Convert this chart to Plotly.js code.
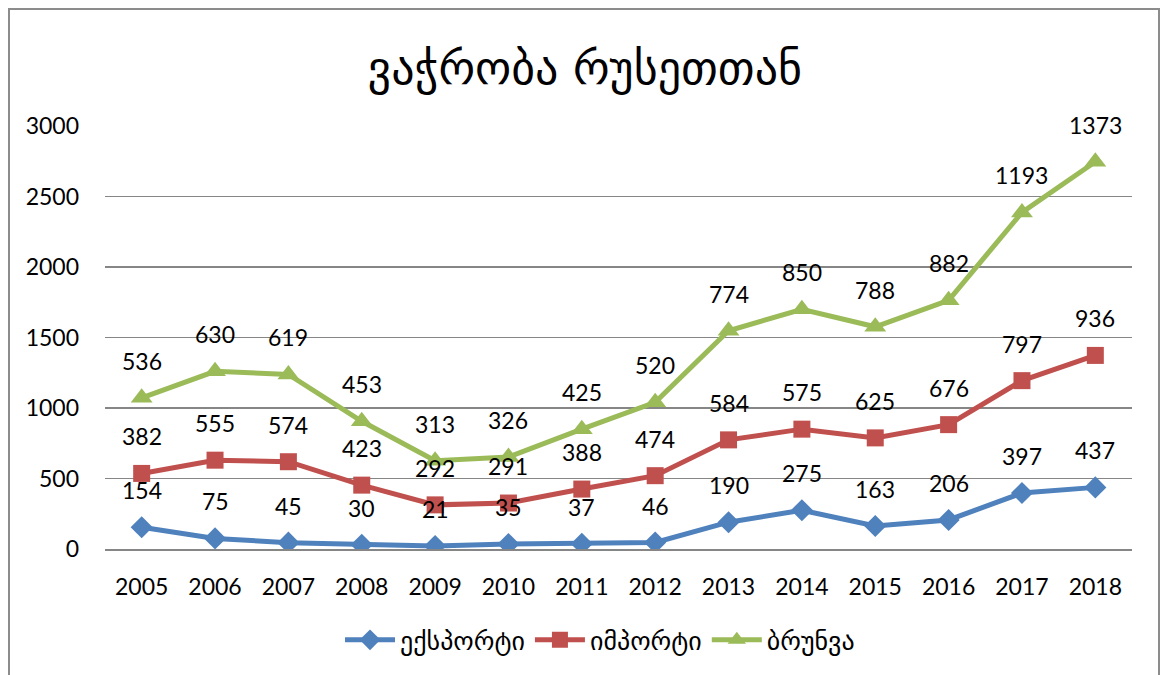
<!DOCTYPE html>
<html><head><meta charset="utf-8">
<script src="https://cdn.plot.ly/plotly-3.0.1.min.js"></script>
<style>
html,body{margin:0;padding:0;background:#fff;overflow:hidden;}
#frame{position:absolute;left:8px;top:8px;width:1152px;height:680px;border:2px solid #8c8c8c;box-sizing:border-box;}
#chart{position:absolute;left:0;top:0;width:1165px;height:675px;}
</style></head>
<body>
<div id="frame"></div>
<div id="chart"></div>
<script>
const years = ['2005','2006','2007','2008','2009','2010','2011','2012','2013','2014','2015','2016','2017','2018'];
const exportVals = [154,75,45,30,21,35,37,46,190,275,163,206,397,437];
const importVals = [382,555,574,423,292,291,388,474,584,575,625,676,797,936];
const turnoverVals = [536,630,619,453,313,326,425,520,774,850,788,882,1193,1373];
const seriesNames = ['ექსპორტი','იმპორტი','ბრუნვა'];
const titleText = 'ვაჭრობა რუსეთთან';

const FONT = 'Lato, "DejaVu Sans", sans-serif';
const GEO = '"DejaVu Sans", sans-serif';
const series = [exportVals, importVals, turnoverVals];
const colors = ['#4F81BD','#C0504D','#9BBB59'];
const symbols = ['diamond','square','triangle-up'];
const sizes = [17,17,19];

// stacked line chart (cumulative)
const cum = [];
series.forEach((s,i)=>{
  cum.push(s.map((v,j)=> v + (i>0 ? cum[i-1][j] : 0)));
});

const traces = series.map((s,i)=>({
  x: years, y: cum[i], type:'scatter', mode:'lines+markers', name: seriesNames[i],
  line:{color:colors[i], width:5},
  marker:{symbol:symbols[i], size:sizes[i], color:colors[i], line:{width:0}},
  hoverinfo:'skip'
}));

const annotations = [];
series.forEach((s,i)=>{
  s.forEach((v,j)=>{
    annotations.push({x:j, y:cum[i][j], xref:'x', yref:'y', text:String(v),
      showarrow:false, yshift:37, xanchor:'center', yanchor:'middle',
      font:{family:FONT, size:23, color:'#000'}});
  });
});

const layout = {
  width:1165, height:675,
  paper_bgcolor:'rgba(0,0,0,0)', plot_bgcolor:'rgba(0,0,0,0)',
  margin:{l:105, r:33, t:126, b:126},
  title:{text:titleText, font:{family:GEO, size:46, color:'#000'},
    x:0.502, xanchor:'center', y:0.9, yanchor:'middle'},
  font:{family:FONT, size:23, color:'#000'},
  xaxis:{type:'category', range:[-0.5,13.5], showgrid:false, zeroline:false,
    showline:true, linecolor:'#868686', linewidth:2, ticks:'', ticklabelstandoff:16,
    tickfont:{family:FONT, size:23, color:'#000'}, fixedrange:true},
  yaxis:{range:[0,3000], dtick:500, showgrid:true, gridcolor:'#868686', gridwidth:1.5,
    zeroline:false, showline:false, ticks:'', ticklabelstandoff:25,
    tickfont:{family:FONT, size:23, color:'#000'}, fixedrange:true},
  showlegend:true,
  legend:{orientation:'h', x:0.482, xanchor:'center', y:-0.215, yanchor:'middle',
    font:{family:GEO, size:26, color:'#000'}, itemwidth:50, tracegroupgap:0},
  annotations: annotations
};

Plotly.newPlot('chart', traces, layout, {displayModeBar:false, staticPlot:true});
</script>
</body></html>
